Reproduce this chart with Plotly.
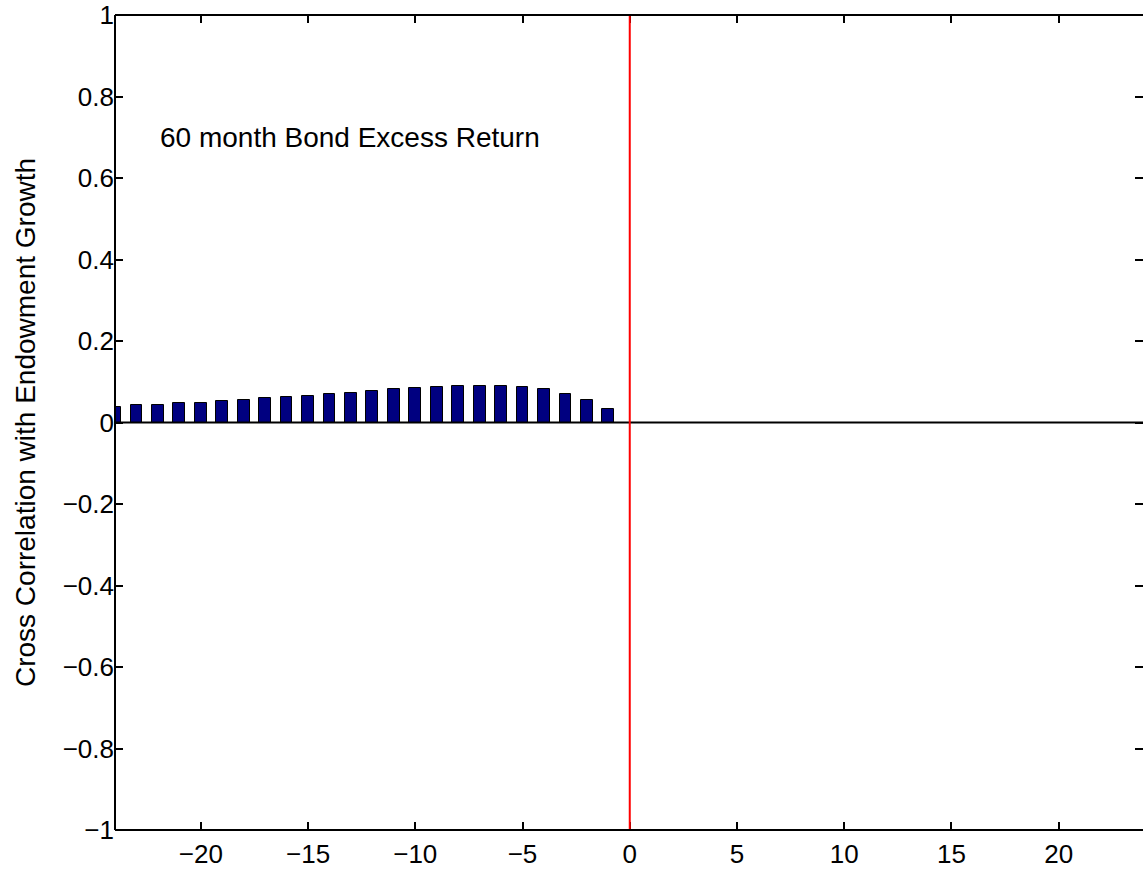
import plotly.graph_objects as go

# Cross-correlation of the 60 month bond excess return with endowment growth, by lag
lags = list(range(-24, 0))
corr = [0.037, 0.042, 0.044, 0.047, 0.049, 0.052, 0.056, 0.059, 0.062, 0.066,
        0.070, 0.073, 0.077, 0.081, 0.084, 0.087, 0.089, 0.090, 0.090, 0.087,
        0.081, 0.071, 0.056, 0.033]

x_ticks = [-20, -15, -10, -5, 0, 5, 10, 15, 20]
y_ticks = [-1, -0.8, -0.6, -0.4, -0.2, 0, 0.2, 0.4, 0.6, 0.8, 1]
y_tick_text = ["\u22121", "\u22120.8", "\u22120.6", "\u22120.4", "\u22120.2", "0",
               "0.2", "0.4", "0.6", "0.8", "1"]
x_tick_text = [str(v).replace("-", "\u2212") for v in x_ticks]

FONT = "Liberation Sans, Arial, Helvetica, sans-serif"

fig = go.Figure()
fig.add_trace(go.Bar(
    x=lags, y=corr, width=0.55,
    marker=dict(color="#000080", line=dict(color="black", width=1)),
    showlegend=False,
))

# zero reference line and the lag-0 marker
fig.add_shape(type="line", xref="paper", yref="y", x0=0, x1=1, y0=0, y1=0,
              line=dict(color="black", width=2))
fig.add_shape(type="line", xref="x", yref="paper", x0=0, x1=0, y0=0, y1=1,
              line=dict(color="red", width=2))

# frame: left, top and bottom edges
for (x0, y0, x1, y1) in [(0, 0, 0, 1), (0, 1, 1, 1), (0, 0, 1, 0)]:
    fig.add_shape(type="line", xref="paper", yref="paper", x0=x0, y0=y0, x1=x1, y1=y1,
                  line=dict(color="black", width=2))

fig.add_annotation(x=-22, y=0.7, xref="x", yref="y", text="60 month Bond Excess Return",
                   showarrow=False, xanchor="left", yanchor="middle",
                   font=dict(family=FONT, size=28, color="black"))

fig.update_layout(
    width=1143, height=869,
    margin=dict(l=115, r=0, t=15, b=39),
    plot_bgcolor="white", paper_bgcolor="white",
    font=dict(family=FONT, size=26, color="black"),
    bargap=0,
    xaxis=dict(range=[-24, 23.93], tickvals=x_ticks, ticktext=x_tick_text,
               ticks="inside", ticklen=8, tickwidth=1.5, tickcolor="black",
               ticklabelstandoff=6, tickfont=dict(size=26),
               mirror="ticks", showline=False, showgrid=False, zeroline=False),
    yaxis=dict(range=[-1, 1], tickvals=y_ticks, ticktext=y_tick_text,
               ticks="inside", ticklen=8, tickwidth=1.5, tickcolor="black",
               tickfont=dict(size=26),
               mirror="ticks", showline=False, showgrid=False, zeroline=False,
               title=dict(text="Cross Correlation with Endowment Growth",
                          font=dict(family=FONT, size=28), standoff=18)),
)

fig.write_html("out.html")
